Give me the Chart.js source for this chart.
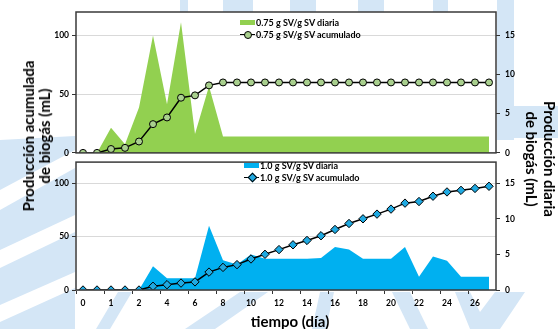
<!DOCTYPE html>
<html>
<head>
<meta charset="utf-8">
<script src="https://cdn.jsdelivr.net/npm/chart.js@4.4.0/dist/chart.umd.min.js"></script>
<style>
  body { margin: 0; background: #fff; }
  #wrap { position: relative; width: 558px; height: 329px; overflow: hidden; font-family: Lato, "DejaVu Sans", sans-serif; }
  #bg { position: absolute; left: 0; top: 0; }
  canvas { position: absolute; left: 0; }
  #topChart { top: 0; }
  #botChart { top: 152px; }
  .title { position: absolute; font-weight: bold; font-size: 15px; line-height: 16px; color: #000; white-space: nowrap; text-align: center; }
  .legend { position: absolute; font-size: 9px; font-weight: bold; color: #000; }
  .legend .row { display: flex; align-items: center; height: 12px; white-space: nowrap; }
  .legend .sym { display: inline-block; width: 15px; height: 12px; margin-right: 1px; position: relative; }
</style>
</head>
<body>
<div id="wrap">
  <svg id="bg" width="558" height="329">
    <g fill="#d4e6f6">
      <rect x="180" y="0" width="8" height="12"/>
      <rect x="223" y="0" width="30" height="12"/>
      <rect x="290" y="0" width="26" height="12"/>
      <rect x="358" y="0" width="26" height="12"/>
      <rect x="433" y="0" width="15" height="12"/>
      <rect x="497" y="0" width="17" height="140"/>
      <rect x="497" y="106" width="61" height="32"/>
      <polygon points="0,140 75,136 75,329 0,329"/>
      <polygon points="96,329 118,292 132,292 110,329"/>
      <polygon points="185,329 240,292 268,292 215,329"/>
      <polygon points="320,292 334,292 326,329 312,329"/>
      <polygon points="392,292 410,292 428,329 410,329"/>
      <polygon points="455,292 470,292 480,312 495,292 525,292 500,329 470,329"/>
    </g>
    <g fill="#ffffff">
      <polygon points="0,190 75,150 75,168 0,210"/>
      <polygon points="0,250 75,215 75,232 0,268"/>
      <polygon points="0,305 75,272 75,288 0,322"/>
    </g>
  </svg>
  <canvas id="topChart" width="558" height="163"></canvas>
  <canvas id="botChart" width="558" height="177"></canvas>

  <div class="title" style="left:36px;top:136px;transform:translate(-50%,-50%) rotate(-90deg);">Producción acumulada<br>de biogás (mL)</div>
  <div class="title" style="left:541px;top:159px;transform:translate(-50%,-50%) rotate(90deg);line-height:18px;">Producción diaria<br>de biogás (mL)</div>
  <div class="title" style="left:290px;top:321px;transform:translate(-50%,-50%);">tiempo (día)</div>

  <div class="legend" id="legTop" style="left:240px;top:16px;"></div>
  <div class="legend" id="legBot" style="left:244px;top:159px;"></div>
</div>

<script>
// days on the category axis (half days at the start)
const dayLabels = [0, 0.5, 1, 1.5, 2, 3, 4, 5, 6, 7, 8, 9, 10, 11, 12, 13, 14, 15, 16, 17, 18, 19, 20, 21, 22, 23, 24, 25, 26, 27];

// 0.75 g SV/g SV
const greenDaily = [0, 0, 3.2, 1.1, 5.8, 15.0, 6.2, 16.7, 2.4, 8.5, 2.1, 2.1, 2.1, 2.1, 2.1, 2.1, 2.1, 2.1, 2.1, 2.1, 2.1, 2.1, 2.1, 2.1, 2.1, 2.1, 2.1, 2.1, 2.1, 2.1];
const greenCum = [0, 0, 3.3, 4.3, 9.7, 24.5, 30.2, 47, 49, 57.5, 60, 60, 60, 60, 60, 60, 60, 60, 60, 60, 60, 60, 60, 60, 60, 60, 60, 60, 60, 60];

// 1.0 g SV/g SV
const blueDaily = [0, 0, 0, 0, 0, 3.35, 1.65, 1.65, 1.65, 9.05, 4.2, 3.6, 5.0, 4.4, 4.4, 4.4, 4.4, 4.5, 6.05, 5.7, 4.4, 4.4, 4.4, 6.05, 1.85, 4.7, 4.1, 1.85, 1.85, 1.85];
const blueCum = [0, 0, 0, 0, 0, 3.5, 5.0, 6.5, 7.6, 16.8, 21.2, 23.8, 29.1, 33.5, 37.9, 42.4, 46.5, 50.9, 56.8, 62.4, 66.8, 71.2, 75.9, 81.5, 83, 88, 92, 93.5, 95.3, 97.3];

const leftTicks = [0, 50, 100];
const rightTicks = [0, 5, 10, 15];

const tickFont = { family: "Lato, 'DejaVu Sans', sans-serif", size: 8.5, weight: "bold" };

// white plot area + dark frame
const panelPlugin = {
    id: "panel",
    beforeDraw(chart) {
        const a = chart.chartArea;
        const c = chart.ctx;
        c.save();
        c.fillStyle = "#fff";
        c.fillRect(a.left, a.top, a.right - a.left, a.bottom - a.top);
        c.restore();
    },
    afterDatasetsDraw(chart) {
        const a = chart.chartArea;
        const c = chart.ctx;
        c.save();
        c.strokeStyle = "#3a3a3a";
        c.lineWidth = 1.5;
        c.strokeRect(a.left, a.top, a.right - a.left, a.bottom - a.top);
        c.restore();
    }
};

function makePanel(id, daily, cum, areaColor, markerStyle, markerFill, xHeight, padding) {
    return new Chart(document.getElementById(id), {
        type: "line",
        data: {
            labels: dayLabels,
            datasets: [
                {
                    data: daily,
                    yAxisID: "yR",
                    order: 1,
                    fill: "origin",
                    backgroundColor: areaColor,
                    borderWidth: 0,
                    pointRadius: 0,
                    tension: 0
                },
                {
                    data: cum,
                    yAxisID: "yL",
                    order: 0,
                    borderColor: "#000",
                    borderWidth: 1.5,
                    pointStyle: markerStyle,
                    pointRadius: markerStyle === "rectRot" ? 4.2 : 3.5,
                    pointBackgroundColor: markerFill,
                    pointBorderColor: "#000",
                    pointBorderWidth: 1,
                    tension: 0
                }
            ]
        },
        options: {
            responsive: false,
            animation: false,
            devicePixelRatio: 1,
            layout: { padding: padding },
            plugins: { legend: { display: false }, tooltip: { enabled: false } },
            scales: {
                x: {
                    type: "category",
                    display: xHeight > 0,
                    offset: true,
                    grid: {
                        offset: true,
                        drawOnChartArea: false,
                        tickLength: 4,
                        tickColor: ctx => (ctx.index % 2 === 0 ? "#333" : "rgba(0,0,0,0)")
                    },
                    border: { display: false },
                    ticks: {
                        autoSkip: false,
                        maxRotation: 0,
                        padding: 4,
                        color: "#000",
                        font: tickFont,
                        callback(v, i) { return i % 2 === 0 ? this.getLabelForValue(v) : ""; }
                    },
                    afterFit(s) { s.height = xHeight; }
                },
                yL: {
                    position: "left",
                    min: 0,
                    max: 120,
                    afterBuildTicks(s) { s.ticks = leftTicks.map(v => ({ value: v })); },
                    grid: { color: "#d9d9d9", tickColor: "#333", tickLength: 4 },
                    border: { display: false },
                    ticks: { color: "#000", font: tickFont, padding: 3 },
                    afterFit(s) { s.width = 76; }
                },
                yR: {
                    position: "right",
                    min: 0,
                    max: 18,
                    afterBuildTicks(s) { s.ticks = rightTicks.map(v => ({ value: v })); },
                    grid: { drawOnChartArea: false, tickColor: "#333", tickLength: 4 },
                    border: { display: false },
                    ticks: { color: "#000", font: tickFont, padding: 5 },
                    afterFit(s) { s.width = 62; }
                }
            }
        },
        plugins: [panelPlugin]
    });
}

const topChart = makePanel("topChart", greenDaily, greenCum, "#92d050", "circle", "#a9d08e", 0,
    { top: 12, bottom: 3, left: 0, right: 0 });
const botChart = makePanel("botChart", blueDaily, blueCum, "#00b0f0", "rectRot", "#1fa9e1", 39,
    { top: 2, bottom: 0, left: 0, right: 0 });

// legends
function buildLegend(el, color, markerStyle, markerFill, dailyLabel, cumLabel) {
    const sw = `<span class="sym"><span style="position:absolute;left:0;top:4px;width:15px;height:5px;background:${color}"></span></span>`;
    const mk = markerStyle === "circle"
        ? `<span style="position:absolute;left:4px;top:2.5px;width:6px;height:6px;border:1px solid #000;border-radius:50%;background:${markerFill}"></span>`
        : `<span style="position:absolute;left:4.5px;top:3px;width:5px;height:5px;border:1px solid #000;transform:rotate(45deg);background:${markerFill}"></span>`;
    const ln = `<span class="sym"><span style="position:absolute;left:0;top:5.5px;width:15px;height:1.5px;background:#000"></span>${mk}</span>`;
    el.innerHTML = `<div class="row">${sw}${dailyLabel}</div><div class="row">${ln}${cumLabel}</div>`;
}
buildLegend(document.getElementById("legTop"), "#92d050", "circle", "#a9d08e",
    "0.75 g SV/g SV diaria", "0.75 g SV/g SV acumulado");
buildLegend(document.getElementById("legBot"), "#00b0f0", "rectRot", "#1fa9e1",
    "1.0 g SV/g SV diaria", "1.0 g SV/g SV acumulado");
</script>
</body>
</html>
